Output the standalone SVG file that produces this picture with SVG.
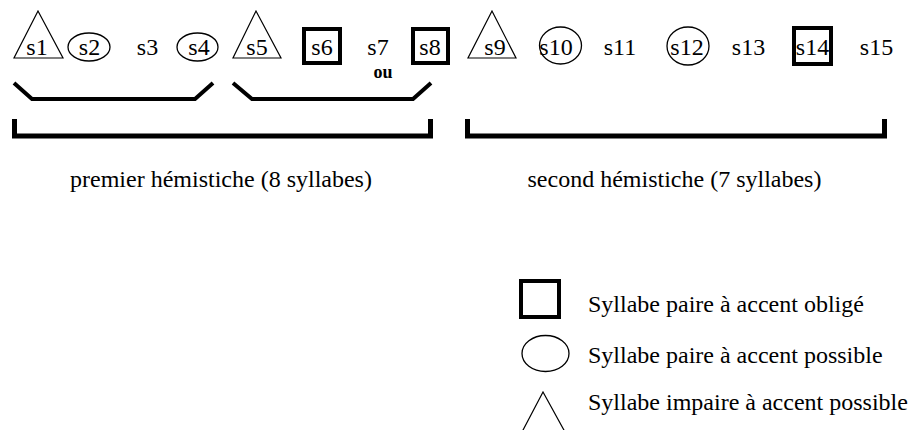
<svg xmlns="http://www.w3.org/2000/svg" width="916" height="430" viewBox="0 0 916 430">
<style>
.t{font-family:"Liberation Serif","Times New Roman",serif;font-size:24px;fill:#000;text-anchor:middle}
.l{font-family:"Liberation Serif","Times New Roman",serif;font-size:24px;fill:#000}
.b{font-family:"Liberation Serif","Times New Roman",serif;font-size:18px;font-weight:bold;fill:#000;text-anchor:middle}
.tri{fill:none;stroke:#000;stroke-width:1.2;stroke-linejoin:miter}
.ell{fill:none;stroke:#000;stroke-width:1.3}
.sq{fill:none;stroke:#000;stroke-width:4}
.br{fill:none;stroke:#000;stroke-width:4}
.bb{fill:none;stroke:#000;stroke-width:5}
</style>
<rect width="916" height="430" fill="#fff"/>
<g id="s1"><polygon class="tri" points="38,11 14,58 63,58"/><text class="t" x="37" y="55">s1</text></g>
<g id="s2"><ellipse class="ell" cx="89" cy="47" rx="21" ry="14"/><text class="t" x="89.5" y="55">s2</text></g>
<g id="s3"><text class="t" x="147.5" y="55">s3</text></g>
<g id="s4"><ellipse class="ell" cx="197.5" cy="47" rx="20.5" ry="14"/><text class="t" x="199" y="55">s4</text></g>
<g id="s5"><polygon class="tri" points="256,11 233,58 281,58"/><text class="t" x="257" y="55">s5</text></g>
<g id="s6"><rect class="sq" x="304" y="29" width="36" height="34"/><text class="t" x="322" y="55">s6</text></g>
<g id="s7"><text class="t" x="378" y="55">s7</text><text class="b" x="383" y="78">ou</text></g>
<g id="s8"><rect class="sq" x="413" y="29" width="35" height="34"/><text class="t" x="430" y="55">s8</text></g>
<g id="s9"><polygon class="tri" points="492,11 468,58 516,58"/><text class="t" x="495" y="55">s9</text></g>
<g id="s10"><ellipse class="ell" cx="560.5" cy="45.5" rx="21" ry="18.5"/><text class="t" x="556" y="55">s10</text></g>
<g id="s11"><text class="t" x="620" y="55">s11</text></g>
<g id="s12"><ellipse class="ell" cx="688" cy="46" rx="21" ry="19"/><text class="t" x="687" y="55">s12</text></g>
<g id="s13"><text class="t" x="748.5" y="55">s13</text></g>
<g id="s14"><rect class="sq" x="794" y="28" width="37" height="36"/><text class="t" x="812.5" y="55">s14</text></g>
<g id="s15"><text class="t" x="876.5" y="55">s15</text></g>
<g id="connectors">
<path class="br" d="M14,83 L32,99 H195 L213,83"/>
<path class="br" d="M233,83 L252,99 H413 L431,83"/>
<path class="bb" d="M14.5,119 V136 H430.5 V119"/>
<path class="bb" d="M467.5,119 V136 H884.5 V119"/>
</g>
<g id="labels">
<text class="t" x="221" y="187">premier hémistiche (8 syllabes)</text>
<text class="t" x="674.5" y="187">second hémistiche (7 syllabes)</text>
</g>
<g id="legend">
<rect class="sq" x="521" y="281" width="38" height="36"/>
<text class="l" x="588" y="312">Syllabe paire à accent obligé</text>
<ellipse class="ell" cx="545.5" cy="353.5" rx="23.5" ry="18"/>
<text class="l" x="588" y="363">Syllabe paire à accent possible</text>
<polyline class="tri" points="522,432 543,392 565,432"/>
<text class="l" x="588" y="410">Syllabe impaire à accent possible</text>
</g>
</svg>
